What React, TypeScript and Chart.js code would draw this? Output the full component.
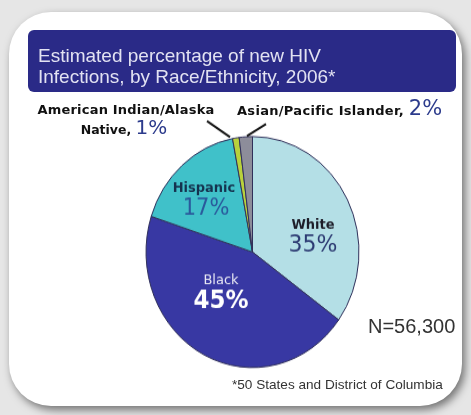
import React, { useEffect, useRef } from "react";
import { Chart, registerables } from "chart.js";

Chart.register(...registerables);

// ---- data ----
const categories = ["White", "Black", "Hispanic", "American Indian/Alaska Native", "Asian/Pacific Islander"];
const values = [35, 45, 17, 1, 2];
const sliceColors = ["#b4dfe6", "#3838a3", "#40c1c9", "#b9d13c", "#8d8d9a"];
const titleLines = ["Estimated percentage of new HIV", "Infections, by Race/Ethnicity, 2006*"];
const totalNote = "N=56,300";
const footnote = "*50 States and District of Columbia";

const W = 471;
const H = 415;
const CANVAS_H = 383;
const STRETCH = 1.0845;

const sliceLabelPlugin = {
  id: "sliceLabels",
  afterDatasetsDraw(chart: any, _args: any, opts: any) {
    const meta = chart.getDatasetMeta(0);
    const ctx = chart.ctx;
    const arc0 = meta.data[0];
    const cx = arc0.x;
    const cy = arc0.y;
    ctx.save();
    ctx.textAlign = "center";
    ctx.textBaseline = "middle";
    for (const it of opts.items) {
      ctx.font = it.nameFont;
      ctx.fillStyle = it.nameColor;
      ctx.fillText(categories[it.index], cx + it.nx, cy + it.ny);
      ctx.font = it.pctFont;
      ctx.fillStyle = it.pctColor;
      ctx.fillText(values[it.index] + "%", cx + it.px, cy + it.py);
    }
    ctx.strokeStyle = "#151515";
    ctx.lineWidth = 2;
    for (const l of opts.lines) {
      ctx.beginPath();
      ctx.moveTo(cx + l[0], cy + l[1]);
      ctx.lineTo(cx + l[2], cy + l[3]);
      ctx.stroke();
    }
    ctx.restore();
  },
};

export default function App() {
  const ref = useRef<HTMLCanvasElement | null>(null);

  useEffect(() => {
    if (!ref.current) return;
    const chart = new Chart(ref.current, {
      type: "pie",
      data: {
        labels: categories,
        datasets: [
          {
            data: values,
            backgroundColor: sliceColors,
            borderColor: "#30305a",
            borderWidth: 1,
          },
        ],
      },
      options: {
        responsive: false,
        animation: false,
        layout: { padding: { left: 145.5, right: 111.5, top: 125.4, bottom: 43.6 } },
        plugins: {
          legend: { display: false },
          tooltip: { enabled: false },
          title: { display: false },
          sliceLabels: {
            items: [
              { index: 0, nx: 60.5, ny: -24.9, px: 60.5, py: -6.4, nameFont: 'bold 13px "DejaVu Sans"', nameColor: "#1c1c28", pctFont: '22px "DejaVu Sans"', pctColor: "#2c3a72" },
              { index: 1, nx: -31.5, ny: 25.9, px: -31.5, py: 45.2, nameFont: '13px "DejaVu Sans"', nameColor: "#e8e8f4", pctFont: 'bold 23px "DejaVu Sans"', pctColor: "#ffffff" },
              { index: 2, nx: -48.5, ny: -59, px: -46.5, py: -39.6, nameFont: 'bold 13px "DejaVu Sans"', nameColor: "#15324e", pctFont: '21px "DejaVu Sans"', pctColor: "#2a5a9c" },
            ],
            lines: [
              [-45.5, -120.8, -22.5, -106],
              [13.5, -118, -5.5, -107],
            ],
          },
        } as any,
      },
      plugins: [sliceLabelPlugin],
    });
    return () => chart.destroy();
  }, []);

  const aiName = categories[3];
  const cut = aiName.lastIndexOf(" ");
  const aiLine1 = aiName.slice(0, cut);
  const aiLine2 = aiName.slice(cut + 1);

  return (
    <div style={{ position: "fixed", left: 0, top: 0, width: W, height: H, overflow: "hidden", background: "#e6e6e6" }}>
      <div
        style={{
          position: "absolute",
          left: 9,
          top: 12,
          width: 453,
          height: 394,
          background: "#ffffff",
          borderRadius: 42,
          boxShadow: "3px 4px 8px rgba(0,0,0,0.5)",
        }}
      />
      <div
        style={{
          position: "absolute",
          left: 28,
          top: 30,
          width: 428,
          height: 62,
          background: "#2a2a87",
          borderRadius: 6,
        }}
      />
      <div style={{ position: "absolute", left: 0, top: 0, width: W, height: CANVAS_H, transform: `scaleY(${STRETCH})`, transformOrigin: "0 0" }}>
        <canvas ref={ref} width={W} height={CANVAS_H} />
      </div>
      <svg width={W} height={H} style={{ position: "absolute", left: 0, top: 0 }}>
        <g fontFamily="'Liberation Sans', Arial, sans-serif" fontSize={19} fill="#e2e2f2">
          <text x={38} y={62}>{titleLines[0]}</text>
          <text x={38} y={83}>{titleLines[1]}</text>
        </g>
        <g fontFamily="'DejaVu Sans', sans-serif" fontWeight="bold" fill="#111">
          <text x={126} y={114} textAnchor="middle" fontSize={13} letterSpacing={0.2}>{aiLine1}</text>
          <text x={124} y={134} textAnchor="middle" fontSize={12.5}>
            {aiLine2 + ", "}
            <tspan fontWeight="normal" fontSize={20} fill="#2c3b8c">{values[3] + "%"}</tspan>
          </text>
          <text x={237} y={115} fontSize={13} letterSpacing={0.3}>
            {categories[4] + ", "}
            <tspan fontWeight="normal" fontSize={21} letterSpacing={0} fill="#2c3b8c">{values[4] + "%"}</tspan>
          </text>
        </g>
        <text x={368} y={333} fontFamily="'Liberation Sans', Arial, sans-serif" fontSize={20} fill="#333">{totalNote}</text>
        <text x={232} y={389} fontFamily="'Liberation Sans', Arial, sans-serif" fontSize={13.6} fill="#333">{footnote}</text>
      </svg>
    </div>
  );
}
